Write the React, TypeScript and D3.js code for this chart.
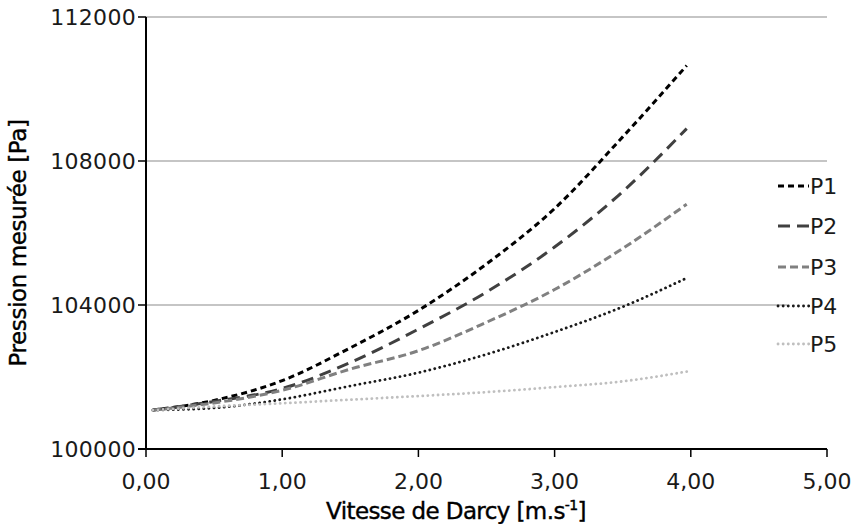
import * as d3 from "d3";

const vitesse = [0.05, 0.5, 1.0, 1.5, 2.0, 2.5, 3.0, 3.5, 3.97];
const p1 = [101080, 101350, 101900, 102810, 103850, 105140, 106680, 108670, 110650];
const p2 = [101080, 101320, 101680, 102400, 103330, 104360, 105610, 107150, 108900];
const p3 = [101080, 101280, 101630, 102220, 102730, 103520, 104430, 105570, 106800];
const p4 = [101080, 101140, 101380, 101750, 102120, 102630, 103250, 103950, 104750];
const p5 = [101080, 101180, 101270, 101370, 101470, 101580, 101720, 101880, 102150];

const seriesNames = ["P1", "P2", "P3", "P4", "P5"];
const xTicks = [0, 1, 2, 3, 4, 5];
const yTicks = [100000, 104000, 108000, 112000];

const styles = [
  { color: "#000000", dash: "6,4", width: 3, cap: "butt" },
  { color: "#404040", dash: "12,7", width: 3, cap: "butt" },
  { color: "#808080", dash: "8,4", width: 3, cap: "butt" },
  { color: "#1a1a1a", dash: "0.1,5", width: 2.8, cap: "round" },
  { color: "#bfbfbf", dash: "0.1,5", width: 2.8, cap: "round" },
];

const font = "DejaVu Sans, sans-serif";

export default function App() {
  const width = 853;
  const height = 524;
  const x = d3.scaleLinear().domain([0, 5]).range([146, 827]);
  const y = d3.scaleLinear().domain([100000, 112000]).range([449, 17]);
  const fmtX = (v: number) => d3.format(".2f")(v).replace(".", ",");

  const data = [p1, p2, p3, p4, p5];
  const line = d3
    .line<number>()
    .x((_, i) => x(vitesse[i]))
    .y((d) => y(d))
    .curve(d3.curveMonotoneX);

  const legendY = [186, 226, 267, 306, 344];

  return (
    <svg width={width} height={height} style={{ position: "absolute", left: 0, top: 0 }} fontFamily={font}>
      <rect width={width} height={height} fill="#fff" />
      {yTicks.slice(1).map((t) => (
        <line key={t} x1={x(0)} x2={x(5)} y1={y(t)} y2={y(t)} stroke="#8c8c8c" strokeWidth={1.2} />
      ))}
      {data.map((d, i) => (
        <path
          key={i}
          d={line(d) || ""}
          fill="none"
          stroke={styles[i].color}
          strokeWidth={styles[i].width}
          strokeDasharray={styles[i].dash}
          strokeLinecap={styles[i].cap as any}
        />
      ))}
      <line x1={x(0)} x2={x(0)} y1={y(112000)} y2={y(100000)} stroke="#000" strokeWidth={2} />
      <line x1={x(0) - 8} x2={x(5)} y1={y(100000)} y2={y(100000)} stroke="#000" strokeWidth={2} />
      {yTicks.map((t) => (
        <g key={t}>
          <line x1={x(0) - 8} x2={x(0)} y1={y(t)} y2={y(t)} stroke="#000" strokeWidth={1.5} />
          <text x={x(0) - 10} y={y(t)} dy="0.36em" textAnchor="end" fontSize={22} fill="#1a1a1a" letterSpacing={0.3}>
            {t}
          </text>
        </g>
      ))}
      {xTicks.map((t) => (
        <g key={t}>
          <line x1={x(t)} x2={x(t)} y1={y(100000)} y2={y(100000) + 8} stroke="#000" strokeWidth={1.5} />
          <text x={x(t)} y={489} textAnchor="middle" fontSize={22} fill="#1a1a1a">
            {fmtX(t)}
          </text>
        </g>
      ))}
      <text x={456} y={519} textAnchor="middle" fontSize={23} fill="#000" stroke="#000" strokeWidth={0.4} letterSpacing={-0.6}>
        Vitesse de Darcy [m.s<tspan dy={-9} fontSize={14}>-1</tspan>
        <tspan dy={9}>]</tspan>
      </text>
      <text
        transform={`translate(26,243) rotate(-90)`}
        textAnchor="middle"
        fontSize={23}
        fill="#000"
        stroke="#000"
        strokeWidth={0.4}
        letterSpacing={-0.4}
      >
        Pression mesurée [Pa]
      </text>
      <rect x={787} y={168} width={66} height={195} fill="#fff" />
      {seriesNames.map((n, i) => (
        <g key={n}>
          <line
            x1={778}
            x2={809}
            y1={legendY[i]}
            y2={legendY[i]}
            stroke={styles[i].color}
            strokeWidth={styles[i].width}
            strokeDasharray={styles[i].dash}
            strokeLinecap={styles[i].cap as any}
          />
          <text x={810} y={legendY[i]} dy="0.36em" fontSize={22} fill="#1a1a1a">
            {n}
          </text>
        </g>
      ))}
    </svg>
  );
}
